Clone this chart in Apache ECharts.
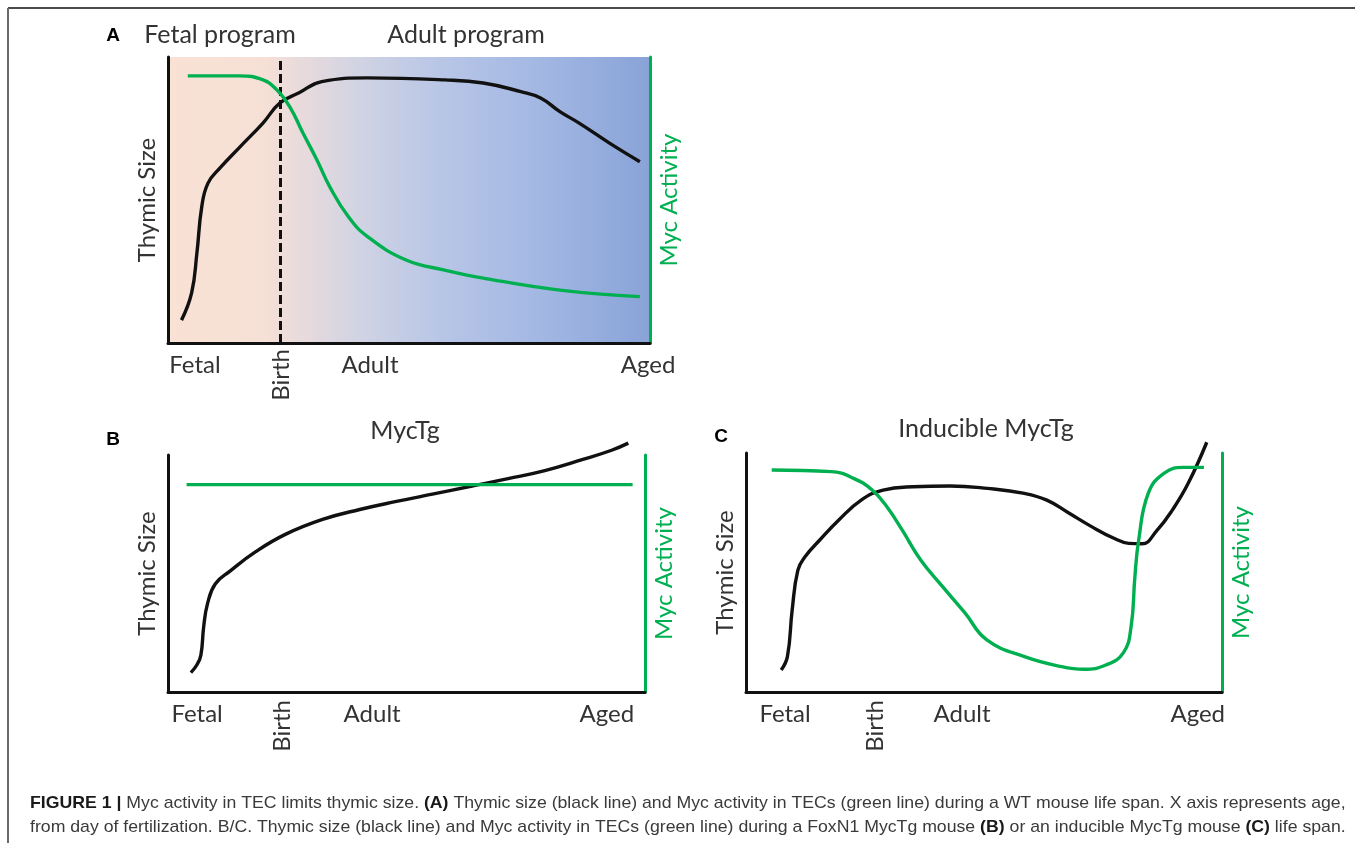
<!DOCTYPE html>
<html><head><meta charset="utf-8">
<script src="https://cdn.jsdelivr.net/npm/echarts@6/dist/echarts.min.js"></script>
<style>html,body{margin:0;padding:0;background:#fff;}#c{width:1355px;height:843px;}</style>
</head><body><div id="c"></div>
<script>
// ---------- data ----------
const tickLabels = ['Fetal', 'Birth', 'Adult', 'Aged'];
// Panel A (WT)
const aTickPos = [5.6, 23.6, 41.9, 99.6];
const aBirthLine = 23.2;
const aThymicX = [2.8, 4.9, 6.0, 7.0, 8.3, 10.8, 14.9, 19.7, 23.2, 27.1, 31.9, 41.4, 57.4, 65.4, 73.2, 77.3, 81.3, 85.3, 91.6, 97.9];
const aThymicY = [8.0, 17.5, 31.5, 47.6, 55.9, 61.2, 68.5, 76.9, 83.9, 87.4, 91.4, 92.7, 92.0, 90.9, 87.9, 85.7, 80.9, 76.9, 69.9, 63.4];
const aMycX = [4.1, 14.9, 19.7, 22.6, 25.3, 28.0, 30.9, 33.6, 37.4, 41.4, 49.4, 57.4, 65.4, 81.3, 97.9];
const aMycY = [93.4, 93.4, 92.0, 88.5, 82.5, 73.4, 64.0, 54.5, 44.2, 37.2, 29.0, 25.5, 22.7, 18.5, 16.2];
// Panel B (MycTg)
const bTickPos = [6.1, 23.9, 42.8, 92.0];
const bThymicX = [4.8, 6.1, 6.9, 7.5, 8.3, 9.9, 13.0, 18.4, 24.6, 32.4, 40.2, 47.9, 55.7, 63.5, 71.3, 79.0, 86.8, 93.0, 96.5];
const bThymicY = [8.2, 11.6, 15.6, 27.9, 37.4, 45.6, 51.0, 59.2, 66.5, 72.8, 77.0, 80.4, 83.6, 86.8, 90.0, 93.4, 98.0, 102.0, 105.0];
const bMycX = [3.9, 97.4];
const bMycY = [87.5, 87.5];
// Panel C (Inducible MycTg)
const cTickPos = [8.2, 27.2, 45.4, 94.9];
const cThymicX = [7.4, 8.7, 9.7, 10.9, 12.4, 15.5, 19.5, 24.2, 28.8, 35.1, 42.9, 50.7, 58.5, 63.2, 67.9, 72.6, 77.3, 80.4, 83.2, 86.3, 89.6, 92.9, 96.8];
const cThymicY = [9.2, 14.8, 34.3, 51.0, 56.6, 63.6, 72.0, 80.3, 84.5, 85.9, 86.2, 85.2, 83.1, 80.3, 74.8, 69.2, 64.3, 62.2, 62.0, 67.5, 76.2, 87.3, 104.5];
const cMycX = [5.4, 17.9, 22.6, 26.5, 29.6, 32.8, 36.7, 41.3, 46.0, 50.6, 58.5, 66.3, 71.0, 75.6, 79.3, 80.9, 81.7, 82.5, 84.5, 87.8, 92.0, 96.2];
const cMycY = [92.9, 92.2, 89.4, 84.5, 77.5, 67.8, 55.2, 44.1, 33.1, 21.8, 14.8, 10.6, 9.5, 11.3, 16.5, 27.3, 48.2, 63.6, 83.1, 91.5, 94.0, 94.0];

// ---------- helpers ----------
const zip = (xs, ys) => xs.map((x, i) => [x, ys[i]]);
const BLACK = '#111111';
const GREEN = '#00b050';
const TXT = '#333333';
const LFONT = 'Lato, "Open Sans", sans-serif';
const LSIZE = 24;

function mainX(grid, pos) {
  const vals = [pos[0], pos[2], pos[3]];
  return {
    type: 'value', gridIndex: grid, min: 0, max: 100, position: 'bottom',
    axisLine: { show: true, onZero: false, lineStyle: { color: BLACK, width: 3 } },
    axisTick: { show: false }, splitLine: { show: false },
    axisLabel: {
      customValues: vals, margin: 10, color: TXT, fontSize: LSIZE, fontFamily: LFONT,
      formatter: v => tickLabels[pos.indexOf(v)]
    }
  };
}
function birthX(grid, pos, margin) {
  return {
    type: 'value', gridIndex: grid, min: 0, max: 100, position: 'bottom', offset: 0,
    axisLine: { show: false }, axisTick: { show: false }, splitLine: { show: false },
    axisLabel: {
      customValues: [pos[1]], rotate: 90, margin: margin, color: TXT, fontSize: LSIZE, fontFamily: LFONT,
      formatter: v => tickLabels[1]
    }
  };
}
function leftY(grid, gap) {
  return {
    type: 'value', gridIndex: grid, min: 0, max: 100, position: 'left',
    name: 'Thymic Size', nameLocation: 'middle', nameRotate: 90, nameGap: gap,
    nameTextStyle: { color: TXT, fontSize: LSIZE, fontFamily: LFONT },
    axisLine: { show: true, onZero: false, lineStyle: { color: BLACK, width: 3 } },
    axisTick: { show: false }, axisLabel: { show: false }, splitLine: { show: false }
  };
}
function rightY(grid, gap) {
  return {
    type: 'value', gridIndex: grid, min: 0, max: 100, position: 'right',
    name: 'Myc Activity', nameLocation: 'middle', nameRotate: 90, nameGap: gap,
    nameTextStyle: { color: GREEN, fontSize: LSIZE, fontFamily: LFONT },
    axisLine: { show: true, onZero: false, lineStyle: { color: GREEN, width: 3 } },
    axisTick: { show: false }, axisLabel: { show: false }, splitLine: { show: false }
  };
}
function curve(name, xi, yi, data, color, extra) {
  return Object.assign({
    name: name, type: 'line', xAxisIndex: xi, yAxisIndex: yi, data: data,
    smooth: 0.45, symbol: 'none', clip: false,
    lineStyle: { color: color, width: 3.4 }, z: 5, silent: true
  }, extra || {});
}

const bgGradient = {
  type: 'linear', x: 0, y: 0, x2: 1, y2: 0,
  colorStops: [
    { offset: 0, color: '#f9e2d4' },
    { offset: 0.2, color: '#f6e0d6' },
    { offset: 0.3, color: '#e4d9de' },
    { offset: 0.4, color: '#d0d3e3' },
    { offset: 0.55, color: '#bac7e6' },
    { offset: 0.75, color: '#a5b9e4' },
    { offset: 1, color: '#89a3d8' }
  ]
};

function txt(text, x, y, font, fill, align) {
  return {
    type: 'text', x: x, y: y, silent: true,
    style: { text: text, font: font, fill: fill, align: align || 'center', verticalAlign: 'middle',
             textAlign: align || 'center', textVerticalAlign: 'middle' }
  };
}

const CFONT = '"Liberation Sans", Arial, sans-serif';
const cap1 = '{b|FIGURE 1 |} Myc activity in TEC limits thymic size. {b|(A)} Thymic size (black line) and Myc activity in TECs (green line) during a WT mouse life span. X axis represents age,';
const cap2 = 'from day of fertilization. B/C. Thymic size (black line) and Myc activity in TECs (green line) during a FoxN1 MycTg mouse {b|(B)} or an inducible MycTg mouse {b|(C)} life span.';
function capText(text, y) {
  return {
    type: 'text', x: 30, y: y, silent: true, scaleX: 1.04,
    style: {
      text: text, font: '17px ' + CFONT, fill: '#3a3a3a',
      align: 'left', verticalAlign: 'middle', textAlign: 'left', textVerticalAlign: 'middle',
      rich: { b: { fontWeight: 'bold', fontSize: 17, fontFamily: CFONT, fill: '#1a1a1a', color: '#1a1a1a' } }
    }
  };
}

const chart = echarts.init(document.getElementById('c'), null, { renderer: 'canvas' });
chart.setOption({
  backgroundColor: '#ffffff',
  animation: false,
  grid: [
    { left: 168, top: 57, width: 482, height: 286 },
    { left: 168, top: 455, width: 477, height: 237 },
    { left: 746, top: 453, width: 476, height: 239 }
  ],
  xAxis: [
    mainX(0, aTickPos), birthX(0, aTickPos, 6),
    mainX(1, bTickPos), birthX(1, bTickPos, 8),
    mainX(2, cTickPos), birthX(2, cTickPos, 8)
  ],
  yAxis: [
    leftY(0, 9), rightY(0, 7),
    leftY(1, 9), rightY(1, 7),
    leftY(2, 9), rightY(2, 7)
  ],
  series: [
    curve('Thymic size A', 0, 0, zip(aThymicX, aThymicY), BLACK, {
      markArea: { silent: true, itemStyle: { color: bgGradient }, z: 0,
        data: [[{ xAxis: 0, yAxis: 0 }, { xAxis: 100, yAxis: 100 }]] },
      markLine: { silent: true, symbol: 'none', label: { show: false },
        lineStyle: { color: '#111', width: 3, type: [9, 4] },
        data: [{ xAxis: aBirthLine }] }
    }),
    curve('Myc activity A', 0, 1, zip(aMycX, aMycY), GREEN),
    curve('Thymic size B', 2, 2, zip(bThymicX, bThymicY), BLACK),
    curve('Myc activity B', 2, 3, zip(bMycX, bMycY), GREEN, { smooth: false }),
    curve('Thymic size C', 4, 4, zip(cThymicX, cThymicY), BLACK),
    curve('Myc activity C', 4, 5, zip(cMycX, cMycY), GREEN)
  ],
  graphic: [
    { type: 'line', silent: true, shape: { x1: 8, y1: 8, x2: 1355, y2: 8 }, style: { stroke: '#4a4a4a', lineWidth: 2 } },
    { type: 'line', silent: true, shape: { x1: 8, y1: 8, x2: 8, y2: 843 }, style: { stroke: '#6a6a6a', lineWidth: 2 } },
    txt('A', 113, 36, 'bold 19px ' + CFONT, '#000'),
    txt('Fetal program', 220, 35, '25px ' + LFONT, TXT),
    txt('Adult program', 466, 35, '25px ' + LFONT, TXT),
    txt('B', 113, 440, 'bold 19px ' + CFONT, '#000'),
    txt('MycTg', 405, 431, '25px ' + LFONT, TXT),
    txt('C', 721, 437, 'bold 19px ' + CFONT, '#000'),
    txt('Inducible MycTg', 986, 429, '25px ' + LFONT, TXT),
    capText(cap1, 803),
    capText(cap2, 827)
  ]
});
</script>
</body></html>
